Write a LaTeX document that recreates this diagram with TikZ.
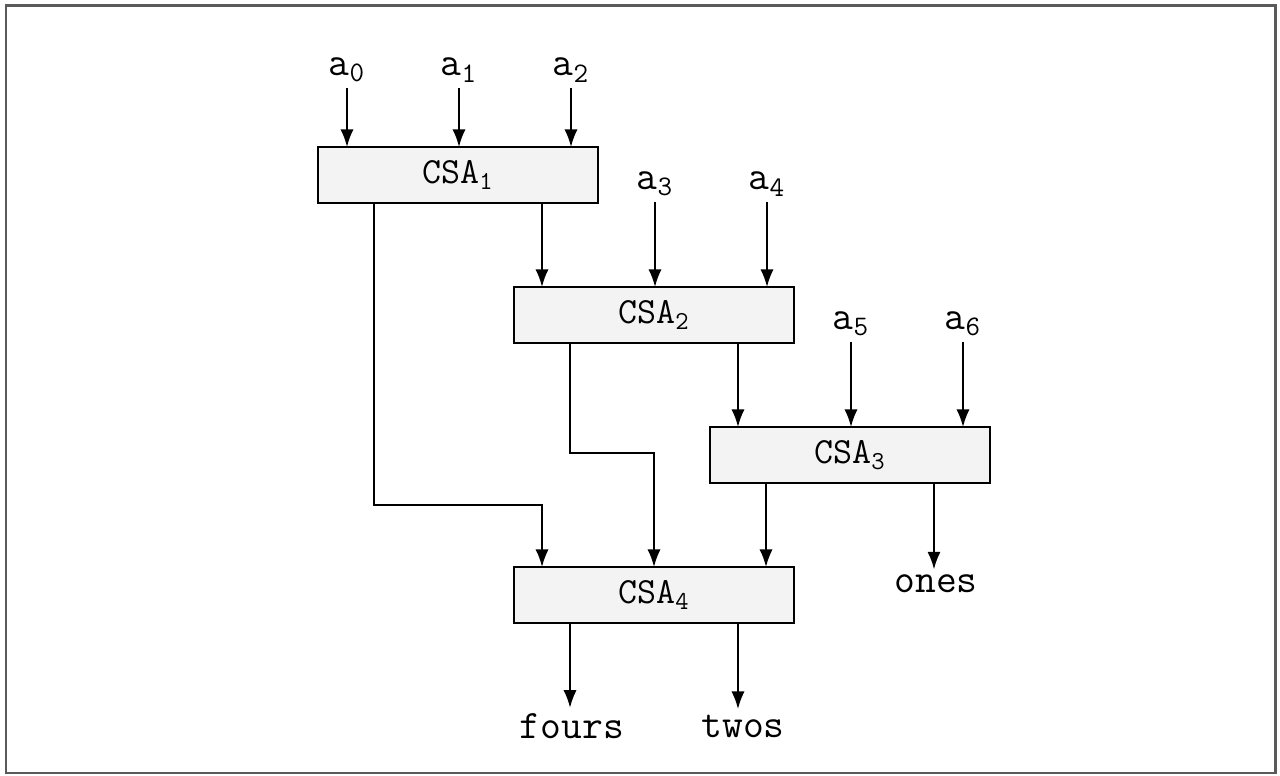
\documentclass[tikz,border=0pt]{standalone}
\usepackage{fontspec}
\usetikzlibrary{arrows.meta}
\definecolor{csafill}{RGB}{243,243,243}
\definecolor{framegray}{RGB}{90,90,90}

\begin{document}
\begin{tikzpicture}[x=0.02cm,y=-0.02cm,
    csa/.style={draw=black,fill=csafill,line width=1pt,minimum width=5.6cm,minimum height=1.12cm,inner sep=0pt,outer sep=0pt,font=\ttfamily\fontsize{21}{24}\selectfont},
    port/.style={inner sep=3pt,font=\ttfamily\fontsize{23}{27}\selectfont},
    wire/.style={line width=1.1pt,-{Latex[length=10pt,width=7.5pt]}}]
      \useasboundingbox (0,0) rectangle (1280,776);
      \draw[draw=framegray,line width=1.7pt] (6,6) rectangle (1275,773);

      % adders
      \node[csa] (csa1) at (458,175) {CSA\textsubscript{1}};
      \node[csa] (csa2) at (654,315) {CSA\textsubscript{2}};
      \node[csa] (csa3) at (850,455) {CSA\textsubscript{3}};
      \node[csa] (csa4) at (654,595) {CSA\textsubscript{4}};

      % inputs
      \node[port] (a0) at (347,70) {a\textsubscript{0}};
      \node[port] (a1) at (459,70) {a\textsubscript{1}};
      \node[port] (a2) at (571,70) {a\textsubscript{2}};
      \node[port] (a3) at (655,184) {a\textsubscript{3}};
      \node[port] (a4) at (767,184) {a\textsubscript{4}};
      \node[port] (a5) at (851,324) {a\textsubscript{5}};
      \node[port] (a6) at (963,324) {a\textsubscript{6}};

      % outputs
      \node[port] (ones) at (936,584) {ones};
      \node[port] (fours) at (572,726) {fours};
      \node[port] (twos) at (743,726) {twos};

      % output ports of the adders
      \coordinate (s1l) at ([xshift=1.12cm]csa1.south west);
      \coordinate (s1r) at ([xshift=-1.12cm]csa1.south east);
      \coordinate (s2l) at ([xshift=1.12cm]csa2.south west);
      \coordinate (s2r) at ([xshift=-1.12cm]csa2.south east);
      \coordinate (s3l) at ([xshift=1.12cm]csa3.south west);
      \coordinate (s3r) at ([xshift=-1.12cm]csa3.south east);
      \coordinate (s4l) at ([xshift=1.12cm]csa4.south west);
      \coordinate (s4r) at ([xshift=-1.12cm]csa4.south east);
      \coordinate (bend1) at (374,505);
      \coordinate (bend2) at (570,453);

      \draw[wire] (a0) -- (a0 |- csa1.north);
      \draw[wire] (a1) -- (a1 |- csa1.north);
      \draw[wire] (a2) -- (a2 |- csa1.north);
      \draw[wire] (a3) -- (a3 |- csa2.north);
      \draw[wire] (a4) -- (a4 |- csa2.north);
      \draw[wire] (a5) -- (a5 |- csa3.north);
      \draw[wire] (a6) -- (a6 |- csa3.north);

      \draw[wire] (s1r) -- (s1r |- csa2.north);
      \draw[wire] (s2r) -- (s2r |- csa3.north);
      \draw[wire] (s1l) -- (s1l |- bend1) -| ([xshift=0.56cm]csa4.north west);
      \draw[wire] (s2l) -- (s2l |- bend2) -| (csa4.north);
      \draw[wire] (s3l) -- (s3l |- csa4.north);
      \draw[wire] (s3r) -- (s3r |- ones.north);
      \draw[wire] (s4l) -- (s4l |- fours.north);
      \draw[wire] (s4r) -- (s4r |- twos.north);
    \end{tikzpicture}
\end{document}
